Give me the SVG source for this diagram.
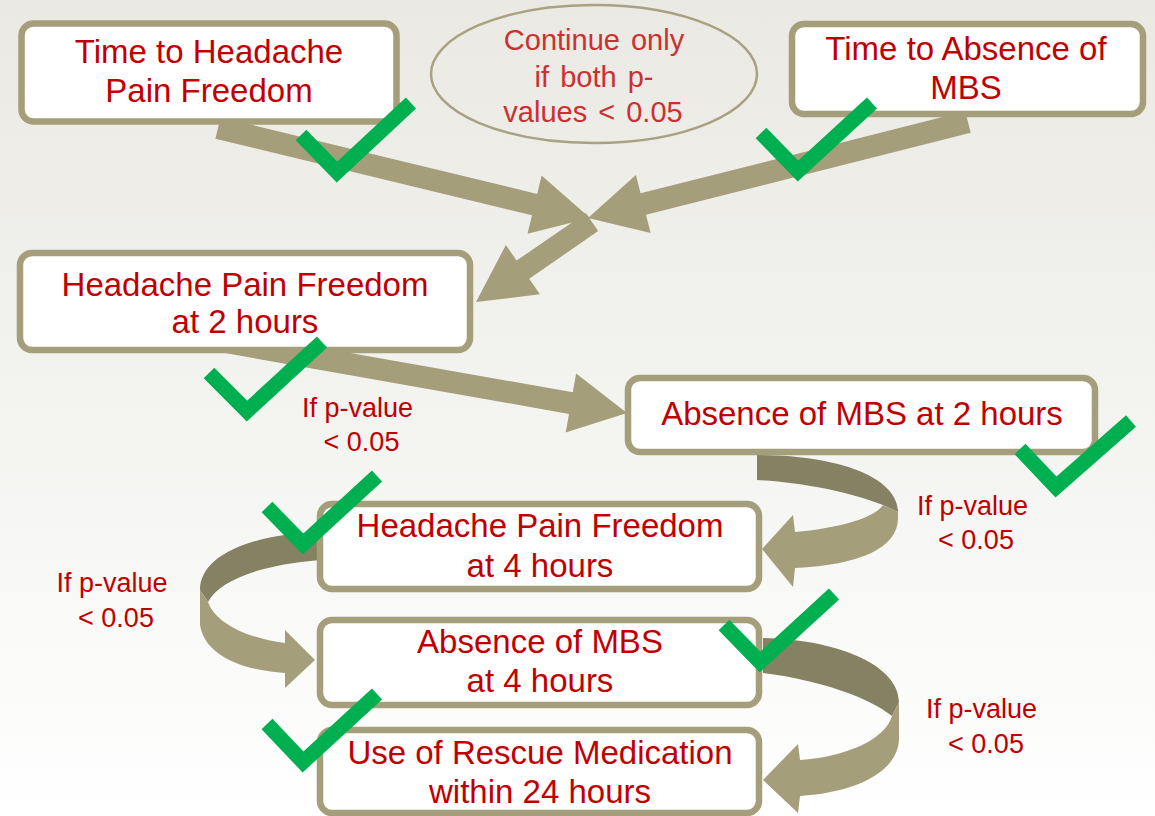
<svg xmlns="http://www.w3.org/2000/svg" width="1155" height="816" viewBox="0 0 1155 816">
  <defs>
    <linearGradient id="bg" x1="0" y1="0" x2="0" y2="1">
      <stop offset="0" stop-color="#eae9e3"/>
      <stop offset="0.5" stop-color="#f3f3f0"/>
      <stop offset="1" stop-color="#ffffff"/>
    </linearGradient>
    <style>
      .box { fill: #ffffff; stroke: #a49e7a; stroke-width: 6.5; }
      .arrow { fill: #a49e7a; }
      .dark { fill: #858163; }
      .light { fill: #a49e7a; }
      .t { font-family: "Liberation Sans", Arial, sans-serif; font-size: 33px; fill: #c00000; text-anchor: middle; }
      .e { font-family: "Liberation Sans", Arial, sans-serif; font-size: 29px; fill: #cc3030; text-anchor: middle; word-spacing: 3px; }
      .lbl { font-family: "Liberation Sans", Arial, sans-serif; font-size: 27px; fill: #c00000; text-anchor: middle; }
      .chk { fill: none; stroke: #00b050; stroke-width: 15; stroke-linejoin: miter; stroke-linecap: butt; }
    </style>
  </defs>

  <rect x="0" y="0" width="1155" height="816" fill="url(#bg)"/>

  <g id="connectors">
    <!-- straight arrows -->
    <polygon class="arrow" points="220.6,117.3 537.2,193.9 541.6,175.4 590,218 527.5,233.8 532.0,215.3 215.4,138.7"/>
    <polygon class="arrow" points="965.3,111.3 640.6,193.3 635.9,174.9 588,218 650.7,233.1 646.0,214.7 970.7,132.7"/>
    <polygon class="arrow" points="585.8,212.9 516.6,260.6 505.9,244.9 476,302 539.9,294.3 529.2,278.7 598.2,231.1"/>
    <polygon class="arrow" points="221.9,330.2 572.8,392.3 576.1,373.6 627,413 565.7,432.6 569.0,413.9 218.1,351.8"/>
    <!-- curved arrow A: Absence of MBS at 2h -> Headache Pain Freedom at 4h -->
    <path class="dark" d="M757,455 C840,455 898,478 898,512 L883,505 C850,492 800,482 757,480 Z"/>
    <path class="light" d="M883,505 L898,512 L898,518 C898,548 860,565 795,568 L793,587 L762,549 L793,515 L795,532 C840,528 874,518 883,505 Z"/>
    <!-- curved arrow B: Headache Pain Freedom at 4h -> Absence of MBS at 4h -->
    <path class="dark" d="M320,532 C250,534 200,556 200,590 L208,602 C220,580 260,565 320,560 Z"/>
    <path class="light" d="M200,590 L208,602 C215,622 245,638 285,643 L285,630 L315,660 L285,688 L285,673 C240,670 205,655 200,625 Z"/>
    <!-- curved arrow C: Absence of MBS at 4h -> Use of Rescue Medication -->
    <path class="dark" d="M763,638 C845,640 899,668 899,702 L892,716 C870,698 820,680 763,673 Z"/>
    <path class="light" d="M899,702 L899,738 C899,770 860,792 800,796 L798,813 L763,780 L798,744 L800,760 C845,757 885,740 892,716 Z"/>
  </g>

  <g id="node-time-headache">
    <rect class="box" x="21.5" y="23.5" width="375" height="98" rx="12"/>
    <text class="t" x="209" y="63">Time to Headache</text>
    <text class="t" x="209" y="102">Pain Freedom</text>
  </g>

  <g id="node-continue">
    <ellipse cx="594" cy="74" rx="163" ry="69" fill="none" stroke="#a8a280" stroke-width="2.5"/>
    <text class="e" x="594" y="50">Continue only</text>
    <text class="e" x="594" y="87">if both p-</text>
    <text class="e" x="593" y="122">values &lt; 0.05</text>
  </g>

  <g id="node-time-mbs">
    <rect class="box" x="792" y="24" width="351" height="90" rx="12"/>
    <text class="t" x="966" y="60">Time to Absence of</text>
    <text class="t" x="966" y="99">MBS</text>
  </g>

  <g id="node-hpf-2h">
    <rect class="box" x="20" y="253" width="450" height="97" rx="12"/>
    <text class="t" x="245" y="296">Headache Pain Freedom</text>
    <text class="t" x="245" y="333">at 2 hours</text>
  </g>

  <g id="node-mbs-2h">
    <rect class="box" x="628" y="378" width="467" height="74" rx="12"/>
    <text class="t" x="862" y="425">Absence of MBS at 2 hours</text>
  </g>

  <g id="node-hpf-4h">
    <rect class="box" x="320" y="504" width="439" height="85" rx="12"/>
    <text class="t" x="540" y="537">Headache Pain Freedom</text>
    <text class="t" x="540" y="577">at 4 hours</text>
  </g>

  <g id="node-mbs-4h">
    <rect class="box" x="320" y="620" width="439" height="85" rx="12"/>
    <text class="t" x="540" y="653">Absence of MBS</text>
    <text class="t" x="540" y="692">at 4 hours</text>
  </g>

  <g id="node-rescue">
    <rect class="box" x="320" y="730" width="439" height="83" rx="12"/>
    <text class="t" x="540" y="764">Use of Rescue Medication</text>
    <text class="t" x="540" y="803">within 24 hours</text>
  </g>

  <g id="labels">
    <text class="lbl" x="357.5" y="417">If p-value</text>
    <text class="lbl" x="361.5" y="451">&lt; 0.05</text>
    <text class="lbl" x="972.5" y="515">If p-value</text>
    <text class="lbl" x="976" y="549">&lt; 0.05</text>
    <text class="lbl" x="112" y="592">If p-value</text>
    <text class="lbl" x="116" y="627">&lt; 0.05</text>
    <text class="lbl" x="981.5" y="718">If p-value</text>
    <text class="lbl" x="986" y="753">&lt; 0.05</text>
  </g>

  <g id="checks">
    <polyline class="chk" points="301,135 337,172 411,103"/>
    <polyline class="chk" points="761,133 798,171 872,103"/>
    <polyline class="chk" points="209,373 247,411 322,342"/>
    <polyline class="chk" points="1020,449 1056,487 1131,421"/>
    <polyline class="chk" points="267,507 303,544 377,476"/>
    <polyline class="chk" points="724,625 760,662 834,594"/>
    <polyline class="chk" points="267,724 303,762 377,694"/>
  </g>
</svg>
